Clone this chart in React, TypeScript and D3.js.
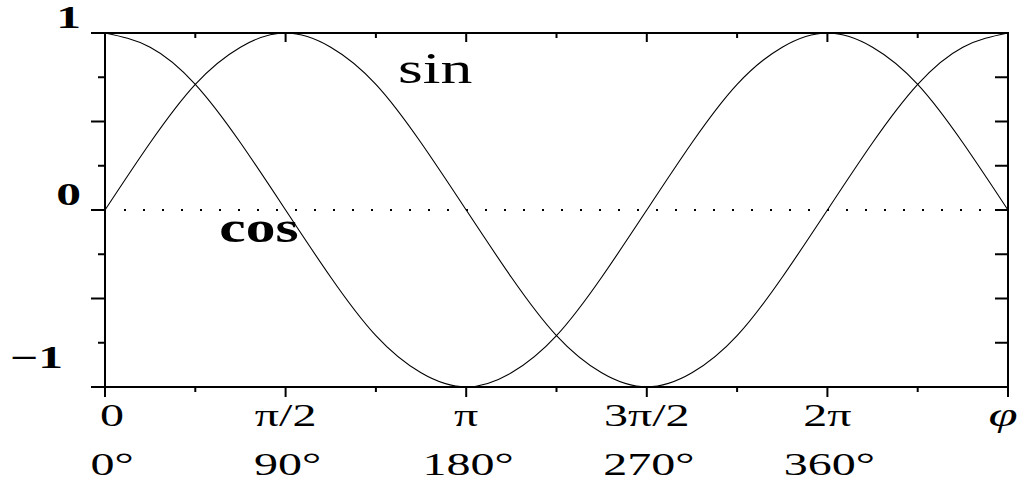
import React from 'react';
import * as d3 from 'd3';

const phiDegrees = [0, 22.5, 45, 67.5, 90, 112.5, 135, 157.5, 180, 202.5, 225, 247.5, 270, 292.5, 315, 337.5, 360, 382.5, 405, 427.5, 450];
const sinValues = [0, 0.38, 0.71, 0.92, 1, 0.92, 0.71, 0.38, 0, -0.38, -0.71, -0.92, -1, -0.92, -0.71, -0.38, 0, 0.38, 0.71, 0.92, 1];
const cosValues = [1, 0.92, 0.71, 0.38, 0, -0.38, -0.71, -0.92, -1, -0.92, -0.71, -0.38, 0, 0.38, 0.71, 0.92, 1, 0.92, 0.71, 0.38, 0];

const xTickDegrees = [0, 45, 90, 135, 180, 225, 270, 315, 360, 405, 450];
const yTickValues = [-1, -0.75, -0.5, -0.25, 0, 0.25, 0.5, 0.75, 1];

const radianTickDegrees = [0, 90, 180, 270, 360, 450];
const radianLabels = ['0', 'π/2', 'π', '3π/2', '2π', 'φ'];
const degreeLabels = ['0°', '90°', '180°', '270°', '360°'];
const yLabelValues = [1, 0, -1];
const yLabels = ['1', '0', '−1'];

const font = '"Liberation Serif", "Times New Roman", serif';

export default function App() {
	const svgWidth = 1029;
	const svgHeight = 483;
	const margin = { top: 33, right: 21, bottom: 96, left: 105 };

	const x = d3.scaleLinear().domain([0, 450]).range([margin.left, svgWidth - margin.right]);
	const y = d3.scaleLinear().domain([-1, 1]).range([svgHeight - margin.bottom, margin.top]);

	const x0 = x.range()[0];
	const x1 = x.range()[1];
	const yTop = y(1);
	const yBottom = y(-1);

	const line = d3
		.line<number>()
		.x((d, i) => x(phiDegrees[i]))
		.y((d) => y(d))
		.curve(d3.curveNatural);

	const isMajorY = (v: number) => Math.abs(v * 2 - Math.round(v * 2)) < 1e-9;
	const isMajorX = (d: number) => d % 90 === 0;

	const axisStroke = { stroke: '#000', strokeWidth: 2 };

	return (
		<svg width={svgWidth} height={svgHeight} style={{ position: 'absolute', left: 0, top: 0, background: '#fff' }}>
			{/* zero line */}
			<line x1={x0 + 19} x2={x1} y1={y(0)} y2={y(0)} stroke="#000" strokeWidth={2} strokeDasharray="2,17" />

			{/* curves */}
			<path d={line(sinValues) || ''} fill="none" stroke="#000" strokeWidth={1.1} />
			<path d={line(cosValues) || ''} fill="none" stroke="#000" strokeWidth={1.1} />

			{/* frame */}
			<line x1={x0} x2={x1} y1={yTop} y2={yTop} {...axisStroke} />
			<line x1={x0} x2={x1} y1={yBottom} y2={yBottom} {...axisStroke} />
			<line x1={x0} x2={x0} y1={yTop - 1} y2={yBottom} {...axisStroke} />
			<line x1={x1} x2={x1} y1={yTop - 1} y2={yBottom} {...axisStroke} />

			{/* x ticks */}
			{xTickDegrees.map((d) => (
				<g key={'xt' + d}>
					<line x1={x(d)} x2={x(d)} y1={yBottom} y2={yBottom + (isMajorX(d) ? 10 : 5)} {...axisStroke} />
					<line x1={x(d)} x2={x(d)} y1={yTop} y2={yTop + (isMajorX(d) ? 9 : 5)} {...axisStroke} />
				</g>
			))}

			{/* y ticks */}
			{yTickValues.map((v) => (
				<g key={'yt' + v}>
					<line x1={x0 - (isMajorY(v) ? 14 : 7)} x2={x0} y1={y(v)} y2={y(v)} {...axisStroke} />
					<line x1={x1 - 13} x2={x1} y1={y(v)} y2={y(v)} {...axisStroke} />
				</g>
			))}

			{/* y labels */}
			{yLabelValues.map((v, i) => (
				<text
					key={'yl' + v}
					transform={`translate(${v < 0 ? 63 : 81},${v < 0 ? y(v) - 19 : y(v) - 5}) scale(1.6,1)`}
					textAnchor="end"
					fontFamily={font}
					fontWeight="bold"
					fontSize={31}
					fill="#000"
				>
					{yLabels[i]}
				</text>
			))}

			{/* radian labels */}
			{radianTickDegrees.map((d, i) => (
				<text
					key={'rl' + d}
					transform={`translate(${x(d) + (d === 0 ? 7 : d === 450 ? -5 : 0)},426) scale(1.55,1)`}
					textAnchor="middle"
					fontFamily={font}
					fontStyle={radianLabels[i] === 'φ' ? 'italic' : 'normal'}
					fontSize={radianLabels[i] === 'φ' ? 34 : 31}
					fill="#000"
				>
					{radianLabels[i]}
				</text>
			))}

			{/* degree labels */}
			{degreeLabels.map((t, i) => (
				<text
					key={'dl' + t}
					transform={`translate(${x(radianTickDegrees[i]) + (i === 0 ? 7 : 2)},475) scale(1.55,1)`}
					textAnchor="middle"
					fontFamily={font}
					fontSize={31}
					fill="#000"
				>
					{t}
				</text>
			))}

			{/* curve names */}
			<text transform={`translate(${x(164.5)},${y(0.717)}) scale(1.45,1)`} textAnchor="middle" fontFamily={font} fontSize={44} fill="#000">
				sin
			</text>
			<text transform={`translate(${x(76.7)},${y(-0.18)}) scale(1.35,1)`} textAnchor="middle" fontFamily={font} fontWeight="bold" fontSize={44} fill="#000">
				cos
			</text>
		</svg>
	);
}
